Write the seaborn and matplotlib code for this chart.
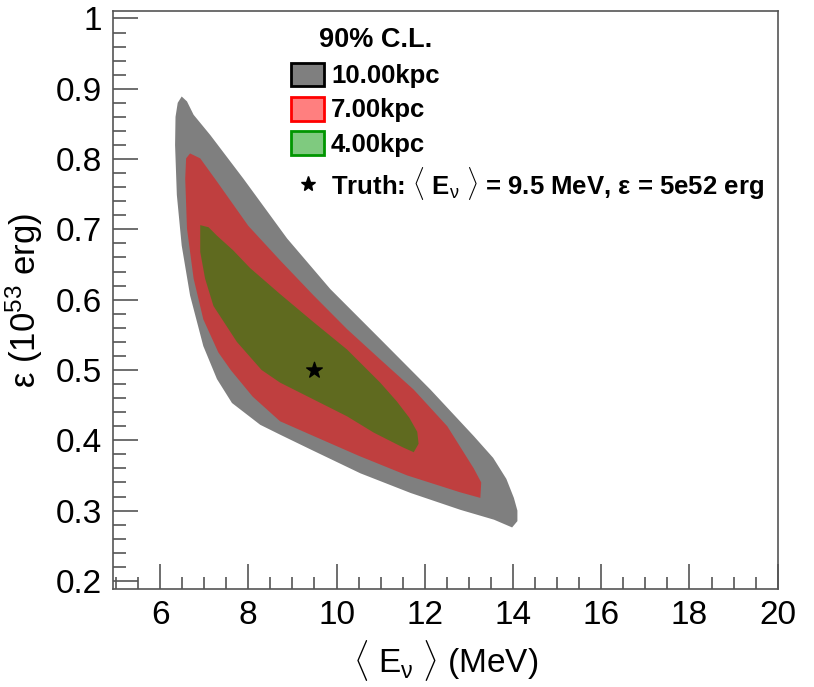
import numpy as np
import matplotlib
matplotlib.use("Agg")
import matplotlib.pyplot as plt
import seaborn as sns
from matplotlib.patches import Patch
from matplotlib.lines import Line2D
from matplotlib.ticker import MultipleLocator, FormatStrFormatter

#  Data (90% C.L. contours)
grey_E = [6.49, 6.40, 6.35, 6.34, 6.38, 6.49, 6.68, 6.98, 7.29, 7.63, 8.27, 8.72, 9.41, 10.54,
          11.68, 12.81, 13.57, 13.98, 14.10, 14.10, 14.02, 13.85, 13.55, 13.11, 12.13, 10.99,
          9.86, 8.88, 7.89, 7.14, 6.76, 6.61]
grey_eps = [0.889, 0.880, 0.860, 0.820, 0.749, 0.677, 0.606, 0.534, 0.487, 0.453, 0.422, 0.408,
            0.387, 0.353, 0.325, 0.301, 0.287, 0.276, 0.285, 0.300, 0.318, 0.345, 0.375, 0.406,
            0.472, 0.544, 0.615, 0.687, 0.772, 0.834, 0.863, 0.882]

red_E = [6.68, 6.59, 6.57, 6.61, 6.76, 6.98, 7.32, 7.60, 8.10, 8.72, 9.48, 10.50, 11.60, 12.80,
         13.26, 13.28, 13.11, 12.51, 11.75, 10.99, 10.24, 9.48, 8.72, 8.00, 7.29, 6.91]
red_eps = [0.808, 0.801, 0.772, 0.701, 0.630, 0.572, 0.525, 0.500, 0.462, 0.427, 0.406, 0.378,
           0.350, 0.326, 0.318, 0.340, 0.360, 0.420, 0.472, 0.515, 0.558, 0.606, 0.656, 0.705,
           0.768, 0.801]

green_E = [7.10, 6.91, 6.91, 7.02, 7.21, 7.74, 8.30, 8.72, 9.48, 10.24, 10.84, 11.50, 11.75,
           11.86, 11.83, 11.65, 11.37, 10.99, 10.24, 9.48, 8.72, 8.04, 7.66, 7.29]
green_eps = [0.703, 0.706, 0.668, 0.630, 0.591, 0.540, 0.500, 0.482, 0.458, 0.434, 0.411, 0.390,
             0.383, 0.395, 0.412, 0.432, 0.455, 0.482, 0.529, 0.568, 0.608, 0.645, 0.670, 0.691]

truth_E = [9.5]
truth_eps = [0.5]

labels = ["10.00kpc", "7.00kpc", "4.00kpc"]
colors = ["black", "red", (0.0, 0.59, 0.0)]

#  Style
sns.set_theme(style="white")
plt.rcParams['font.family'] = ['Liberation Sans', 'DejaVu Sans']
plt.rcParams['mathtext.fontset'] = 'custom'
plt.rcParams['mathtext.rm'] = 'Liberation Sans'
plt.rcParams['mathtext.it'] = 'Liberation Sans'
plt.rcParams['mathtext.bf'] = 'Liberation Sans:bold'
plt.rcParams['text.color'] = 'black'
plt.rcParams['axes.labelcolor'] = 'black'

fig = plt.figure(figsize=(8.14, 6.87), dpi=100)
ax = fig.add_axes([0.1392, 0.1422, 0.8162, 0.8422])

# Contours
for xs, ys, c in zip([grey_E, red_E, green_E], [grey_eps, red_eps, green_eps], colors):
    ax.fill(xs, ys, color=c, alpha=0.5, lw=0)

sns.scatterplot(x=truth_E, y=truth_eps, marker="*", s=140, color="black",
                edgecolor="black", ax=ax, zorder=5)

# Axes
ax.set_xlim(4.94, 20)
ax.set_ylim(0.188, 1.011)
ax.xaxis.set_major_locator(MultipleLocator(2))
ax.xaxis.set_minor_locator(MultipleLocator(0.5))
ax.yaxis.set_major_locator(MultipleLocator(0.1))
ax.yaxis.set_minor_locator(MultipleLocator(0.02))
ax.yaxis.set_major_formatter(FormatStrFormatter('%g'))
ax.tick_params(which='both', direction='in', color='#555555', width=1.2, labelcolor='black',
               top=False, right=False, bottom=True, left=True)
ax.tick_params(which='major', length=18, labelsize=24, pad=8)
ax.tick_params(which='minor', length=9)
for sp in ax.spines.values():
    sp.set_color('#555555')
    sp.set_linewidth(1.2)

ax.set_xlabel(r"$\langle$ E$_{\nu}$ $\rangle$ (MeV)", fontsize=24, labelpad=5)
ax.set_ylabel(r"ε (10$^{53}$ erg)", fontsize=25, labelpad=8)

# Legend
handles = [Patch(facecolor=matplotlib.colors.to_rgba(c, 0.5), edgecolor=c, lw=2) for c in colors]
handles.append(Line2D([], [], marker='*', color='black', ls='none', markersize=11))
leg_labels = labels + [r"Truth: $\langle$ E$_{\nu}$ $\rangle$ = 9.5 MeV, ε = 5e52 erg"]
leg = ax.legend(handles, leg_labels, loc='upper left', bbox_to_anchor=(0.268, 0.91),
                frameon=False, prop={'weight': 'bold', 'size': 18.5},
                handlelength=1.27, handleheight=1.04, handletextpad=0.27,
                labelspacing=0.33, borderpad=0, borderaxespad=0)
ax.text(0.309, 0.949, "90% C.L.", transform=ax.transAxes, fontsize=19.5,
        fontweight='bold', ha='left', va='center')

fig.savefig("out.png", dpi=100)
